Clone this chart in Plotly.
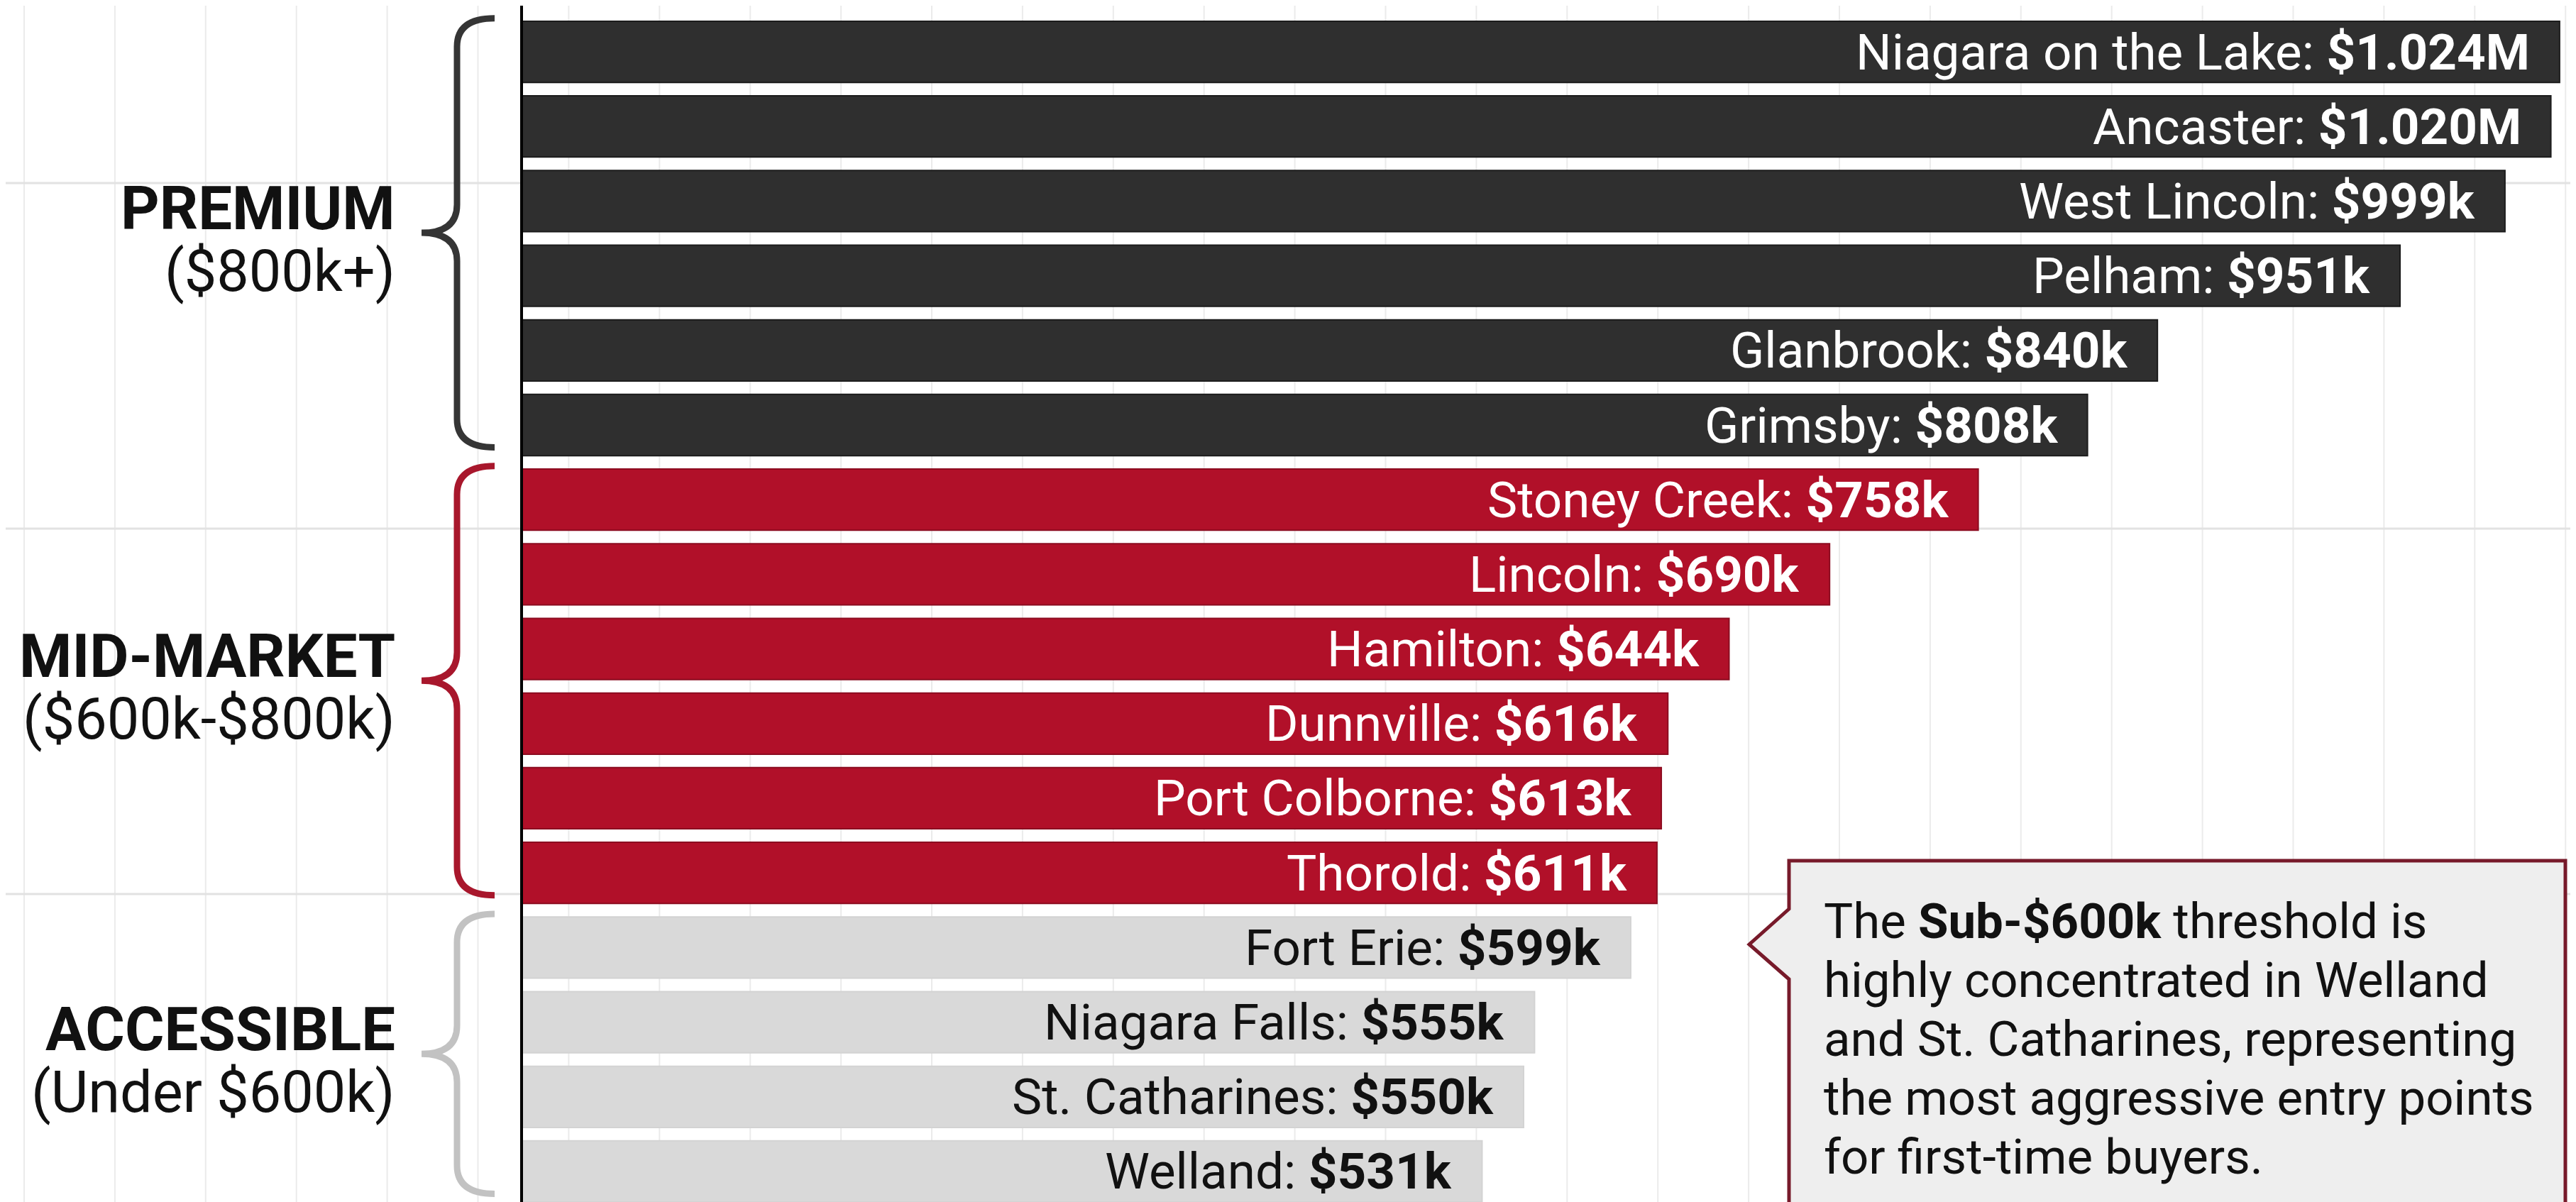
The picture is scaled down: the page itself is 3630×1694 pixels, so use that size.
import plotly.graph_objects as go

# ---------------- data ----------------
towns = ["Niagara on the Lake", "Ancaster", "West Lincoln", "Pelham", "Glanbrook",
         "Grimsby", "Stoney Creek", "Lincoln", "Hamilton", "Dunnville",
         "Port Colborne", "Thorold", "Fort Erie", "Niagara Falls", "St. Catharines",
         "Welland"]
prices_k = [1024, 1020, 999, 951, 840, 808, 758, 690, 644, 616, 613, 611, 599, 555, 550, 531]
tiers = ["PREMIUM"] * 6 + ["MID-MARKET"] * 6 + ["ACCESSIBLE"] * 4
tier_names = ["PREMIUM", "MID-MARKET", "ACCESSIBLE"]
tier_ranges = ["($800k+)", "($600k-$800k)", "(Under $600k)"]
callout_lines = ["The <b>Sub-$600k</b> threshold is",
                 "highly concentrated in Welland",
                 "and St. Catharines, representing",
                 "the most aggressive entry points",
                 "for first-time buyers."]

# ---------------- styles ----------------
W, H = 3630, 1694
FONT = "Roboto, Arial, sans-serif"
tier_fill = {"PREMIUM": "#2f2f2f", "MID-MARKET": "#b11029", "ACCESSIBLE": "#d9d9d9"}
tier_edge = {"PREMIUM": "#1c1c1c", "MID-MARKET": "#8c0c20", "ACCESSIBLE": "#d3d3d3"}
tier_text = {"PREMIUM": "#ffffff", "MID-MARKET": "#ffffff", "ACCESSIBLE": "#111111"}
tier_brace = {"PREMIUM": "#353535", "MID-MARKET": "#a8172c", "ACCESSIBLE": "#c2c2c2"}


def px(x):
    return x / W


def py(y):
    return 1 - y / H


def fmt(v):
    return f"${v/1000:.3f}M" if v >= 1000 else f"${v}k"


idx = list(range(len(towns)))

fig = go.Figure()
fig.add_trace(go.Bar(
    x=prices_k, y=idx, orientation="h", width=0.82,
    marker=dict(color=[tier_fill[t] for t in tiers],
                line=dict(color=[tier_edge[t] for t in tiers], width=2)),
    hoverinfo="skip", showlegend=False,
))

annotations = []
for i, (name, v, t) in enumerate(zip(towns, prices_k, tiers)):
    annotations.append(dict(
        x=v, y=i, xref="x", yref="y", xanchor="right", yanchor="middle",
        xshift=-40, showarrow=False,
        text=f"{name}: <b>{fmt(v)}</b>",
        font=dict(family=FONT, size=71, color=tier_text[t]),
    ))

shapes = []
# background graph-paper grid
for k in range(29):
    x = 26 + k * 127.9
    shapes.append(dict(type="line", xref="paper", yref="paper", x0=px(x), x1=px(x),
                       y0=0, y1=1, line=dict(color="#ebebeb", width=2), layer="below"))
for y in [250, 737, 1252]:
    shapes.append(dict(type="line", xref="paper", yref="paper", x0=0, x1=1,
                       y0=py(y), y1=py(y), line=dict(color="#e2e2e2", width=3), layer="below"))

# braces + tier labels
xe, xv, xt = px(689), px(636), px(586)
r = 0.38
for tn, tr in zip(tier_names, tier_ranges):
    members = [i for i, t in enumerate(tiers) if t == tn]
    a, b = members[0], members[-1]
    ya, yb = a - 0.45, b + 0.3
    ym = (ya + yb) / 2
    path = (f"M {xe},{ya} Q {xv},{ya} {xv},{ya + r} L {xv},{ym - r} "
            f"Q {xv},{ym} {xt},{ym} Q {xv},{ym} {xv},{ym + r} "
            f"L {xv},{yb - r} Q {xv},{yb} {xe},{yb}")
    shapes.append(dict(type="path", xref="paper", yref="y", path=path,
                       line=dict(color=tier_brace[tn], width=9)))
    yc = (a + b) / 2
    annotations.append(dict(x=px(551), y=yc, xref="paper", yref="y", xanchor="right",
                            yanchor="middle", yshift=42, showarrow=False,
                            text=f"<b>{tn}</b>",
                            font=dict(family=FONT, size=85, color="#111111")))
    annotations.append(dict(x=px(551), y=yc, xref="paper", yref="y", xanchor="right",
                            yanchor="middle", yshift=-46, showarrow=False, text=tr,
                            font=dict(family=FONT, size=81, color="#111111")))

# callout box with pointer
pts = [(2513, 1205), (3607, 1205), (3607, 1690), (2513, 1690), (2513, 1372),
       (2457, 1323), (2513, 1273)]
cpath = "M " + " L ".join(f"{px(x)},{py(y)}" for x, y in pts) + " Z"
shapes.append(dict(type="path", xref="paper", yref="paper", path=cpath,
                   fillcolor="#eeeeee", line=dict(color="#771a2a", width=5)))
for k, line in enumerate(callout_lines):
    annotations.append(dict(x=px(2560), y=py(1290 + k * 83), xref="paper", yref="paper",
                            xanchor="left", yanchor="middle", align="left",
                            showarrow=False, text=line,
                            font=dict(family=FONT, size=69, color="#111111")))

x_left, x_right = 92.2, 1034.1
fig.update_layout(
    width=W, height=H,
    margin=dict(l=0, r=0, t=0, b=0),
    paper_bgcolor="white", plot_bgcolor="rgba(0,0,0,0)",
    bargap=0.18,
    xaxis=dict(domain=[px(729), 1], range=[x_left, x_right], visible=False),
    yaxis=dict(range=[15.485, -0.618], showticklabels=False, showgrid=False,
               zeroline=False, showline=True, linecolor="#000000", linewidth=4,
               ticks=""),
    shapes=shapes, annotations=annotations,
)

fig.write_html("out.html")
